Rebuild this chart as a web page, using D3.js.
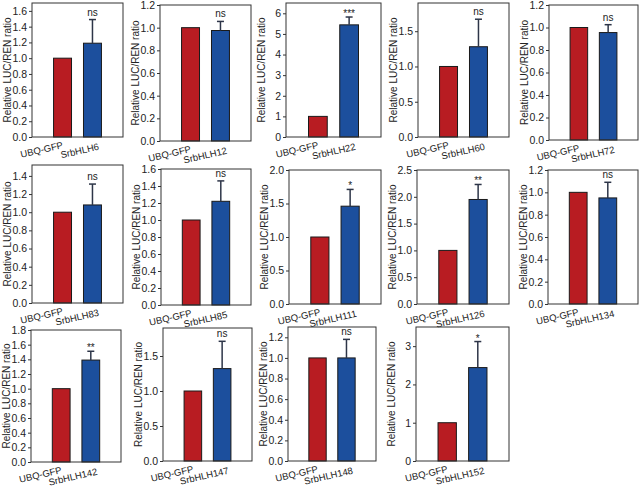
<!DOCTYPE html>
<html><head><meta charset="utf-8">
<script src="https://cdn.jsdelivr.net/npm/d3@7"></script>
<style>html,body{margin:0;padding:0;background:#fff;} svg{display:block;}</style>
</head><body>
<svg id="c" width="640" height="488"></svg>
<script>
const genes = ["SrbHLH6","SrbHLH12","SrbHLH22","SrbHLH60","SrbHLH72","SrbHLH83","SrbHLH85","SrbHLH111","SrbHLH126","SrbHLH134","SrbHLH142","SrbHLH147","SrbHLH148","SrbHLH152"];
const controlName = "UBQ-GFP";
const controlValues = [1,1,1,1,1,1,1,1,1,1,1,1,1,1];
const geneValues = [1.19,0.975,5.44,1.28,0.955,1.08,1.22,1.46,1.95,0.95,1.39,1.32,1.00,2.44];
const geneErrors = [0.30,0.08,0.38,0.39,0.07,0.23,0.24,0.25,0.28,0.14,0.12,0.39,0.18,0.68];
const significance = ["ns","ns","***","ns","ns","ns","ns","*","**","ns","**","ns","ns","*"];
const yMaxValues = [1.7,1.2,6.5,1.9,1.2,1.52,1.6,2.0,2.5,1.2,1.8,1.9,1.3,3.5];
const yTickSteps = [0.2,0.2,1,0.5,0.2,0.2,0.2,0.5,0.5,0.2,0.2,0.5,0.2,1];
const yTitle = "Relative LUC/REN ratio";

// layout: plot frames [left, top, right, bottom]
const frames = [
  [32,3,123,137],[160,5,251,141],[286,3,381,137],[418,3,509,137],[549,5,638,140],
  [32,165,123,303],[161,169,251,305],[289,170,381,304],[417,170,509,304],[548,170,638,304],
  [31,330,121,462],[163,328,252,461],[288,327,376,461],[416,327,509,461]
];
const RED = "#b81c22", BLUE = "#1c4f9d", INK = "#222";
const FONT = "'Liberation Sans', Arial, sans-serif";

const svg = d3.select("#c");
svg.append("rect").attr("width",640).attr("height",488).attr("fill","#fff");

genes.forEach((gene, i) => {
  const [l, t, r, b] = frames[i];
  const g = svg.append("g");
  const y = d3.scaleLinear().domain([0, yMaxValues[i]]).range([b, t]);
  const x = d3.scaleBand().domain([controlName, gene]).range([l, r]).paddingInner(0.4).paddingOuter(0.72);
  const step = yTickSteps[i];
  const ticks = d3.range(0, Math.floor(yMaxValues[i] / step + 1e-6) + 1).map(k => +(k * step).toFixed(3));
  const fmt = step < 1 ? d3.format(".1f") : d3.format("d");

  // bars
  const rows = [{k: controlName, v: controlValues[i], c: RED}, {k: gene, v: geneValues[i], c: BLUE}];
  g.selectAll("rect.bar").data(rows).join("rect")
    .attr("x", d => x(d.k)).attr("width", x.bandwidth())
    .attr("y", d => y(d.v)).attr("height", d => y(0) - y(d.v))
    .attr("fill", d => d.c).attr("stroke", "#1a1a1a").attr("stroke-width", 1);

  // error bar (upper)
  const cx = x(gene) + x.bandwidth() / 2;
  const yTop = y(geneValues[i] + geneErrors[i]);
  g.append("line").attr("x1", cx).attr("x2", cx).attr("y1", y(geneValues[i])).attr("y2", yTop)
    .attr("stroke", "#2d3548").attr("stroke-width", 1.5);
  g.append("line").attr("x1", cx - 3.5).attr("x2", cx + 3.5).attr("y1", yTop).attr("y2", yTop)
    .attr("stroke", "#2d3548").attr("stroke-width", 1.5);

  // significance
  g.append("text").attr("x", cx).attr("y", yTop - (significance[i] === "ns" ? 4 : 0))
    .attr("text-anchor", "middle").attr("font-family", FONT).attr("font-size", 10)
    .attr("fill", INK).text(significance[i]);

  // frame
  g.append("rect").attr("x", l).attr("y", t).attr("width", r - l).attr("height", b - t)
    .attr("fill", "none").attr("stroke", "#333").attr("stroke-width", 1);

  // y axis
  const ax = g.append("g").attr("transform", `translate(${l},0)`)
    .call(d3.axisLeft(y).tickValues(ticks).tickFormat(fmt).tickSize(3).tickPadding(2));
  ax.select(".domain").remove();
  ax.selectAll("line").attr("stroke", "#333");
  ax.selectAll("text").attr("font-family", FONT).attr("font-size", 10.5).attr("fill", INK);

  // x labels (rotated)
  const cc = x(controlName) + x.bandwidth() / 2;
  g.append("text").attr("transform", `translate(${cc + 1},${b + 11}) rotate(-13)`)
    .attr("text-anchor", "end").attr("font-family", FONT).attr("font-size", 9.5).attr("fill", INK)
    .text(controlName);
  g.append("text").attr("transform", `translate(${cx + 7},${b + 12.5}) rotate(-13)`)
    .attr("text-anchor", "end").attr("font-family", FONT).attr("font-size", 9.5).attr("fill", INK)
    .text(gene);

  // y title
  g.append("text").attr("transform", `translate(${l - 21},${(t + b) / 2}) rotate(-90)`)
    .attr("text-anchor", "middle").attr("font-family", FONT).attr("font-size", 10).attr("fill", INK)
    .text(yTitle);
});
</script>
</body></html>
